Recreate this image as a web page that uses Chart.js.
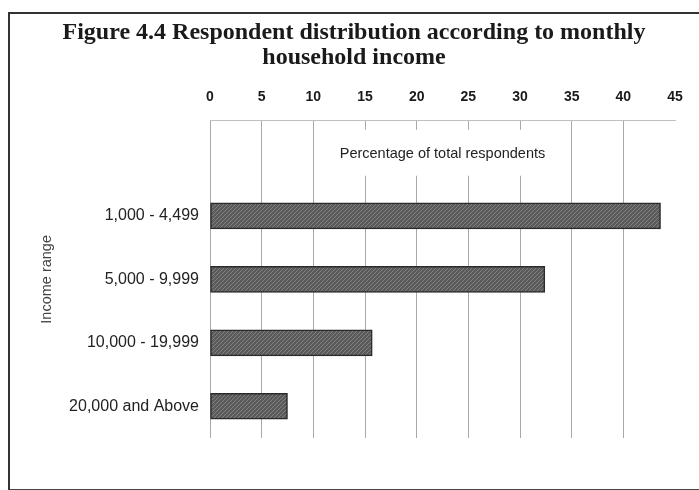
<!DOCTYPE html>
<html>
<head>
<meta charset="utf-8">
<script src="https://cdn.jsdelivr.net/npm/chart.js@4.4.0/dist/chart.umd.min.js"></script>
<style>
    body { margin: 0; background: #fff; }
    #frame {
        position: absolute; left: 8px; top: 12px; width: 700px; height: 475px;
        border-top: 2px solid #333; border-left: 2px solid #333; border-bottom: 2px solid #444;
    }
    #wrap { position: absolute; left: 0; top: 0; width: 699px; height: 490px; }
</style>
</head>
<body>
<div id="frame"></div>
<div id="wrap"><canvas id="chart"></canvas></div>
<script>
const incomeRanges = ["1,000 - 4,499", "5,000 - 9,999", "10,000 - 19,999", "20,000 and Above"];
const percentages = [43.6, 32.4, 15.7, 7.5];
const xTicks = [0, 5, 10, 15, 20, 25, 30, 35, 40, 45];
const titleLines = ["Figure 4.4 Respondent distribution according to monthly", "household income"];
const xTitle = "Percentage of total respondents";
const yTitle = "Income range";

function makeHatch() {
    const c = document.createElement("canvas");
    c.width = 4;
    c.height = 4;
    const g = c.getContext("2d");
    g.fillStyle = "#5a5a5a";
    g.fillRect(0, 0, 4, 4);
    g.strokeStyle = "#828282";
    g.lineWidth = 1;
    g.beginPath();
    g.moveTo(0, 4);
    g.lineTo(4, 0);
    g.moveTo(-1, 1);
    g.lineTo(1, -1);
    g.moveTo(3, 5);
    g.lineTo(5, 3);
    g.stroke();
    return g.createPattern(c, "repeat");
}

// title of the value axis sits inside the plot, on a white box
const innerTitle = {
    id: "innerTitle",
    afterDraw(chart) {
        const ctx = chart.ctx;
        const area = chart.chartArea;
        const cx = (area.left + area.right) / 2;
        ctx.save();
        ctx.font = "14.5px 'Liberation Sans', Arial, sans-serif";
        const w = ctx.measureText(xTitle).width;
        ctx.fillStyle = "#fff";
        ctx.fillRect(cx - w / 2 - 14, area.top + 9, w + 28, 46);
        ctx.fillStyle = "#222";
        ctx.textAlign = "center";
        ctx.textBaseline = "middle";
        ctx.fillText(xTitle, cx, area.top + 33);
        ctx.restore();
    }
};

new Chart(document.getElementById("chart"), {
    type: "bar",
    data: {
        datasets: [{
            data: percentages.map((v, i) => ({x: v, y: i})),
            backgroundColor: makeHatch(),
            borderColor: "#2a2a2a",
            borderWidth: 1.5,
            borderSkipped: false,
            barThickness: 26
        }]
    },
    options: {
        indexAxis: "y",
        responsive: true,
        maintainAspectRatio: false,
        animation: false,
        layout: {padding: {left: 33, right: 24, top: 0, bottom: 52}},
        plugins: {
            legend: {display: false},
            tooltip: {enabled: false},
            title: {
                display: true,
                text: titleLines,
                color: "#1a1a1a",
                font: {family: "'Liberation Serif', 'Times New Roman', serif", size: 24, weight: "bold", lineHeight: 1.04},
                padding: {top: 20, bottom: 4}
            }
        },
        scales: {
            x: {
                position: "top",
                min: 0,
                max: 45,
                afterBuildTicks: (scale) => { scale.ticks = xTicks.map(v => ({value: v})); },
                ticks: {
                    color: "#1a1a1a",
                    padding: 15,
                    font: {family: "'Liberation Sans', Arial, sans-serif", size: 14, weight: "bold"}
                },
                grid: {
                    drawTicks: false,
                    color: (ctx) => ctx.tick && ctx.tick.value === 45 ? "rgba(0,0,0,0)" : "#a8a8a8"
                },
                border: {display: true, color: "#c0c0c0"}
            },
            y: {
                type: "linear",
                reverse: true,
                offset: false,
                min: -1.5,
                max: 3.5,
                afterBuildTicks: (scale) => { scale.ticks = incomeRanges.map((c, i) => ({value: i})); },
                afterFit: (scale) => {
                    scale.width = 177;
                    scale.paddingTop = 0;
                    scale.paddingBottom = 0;
                },
                ticks: {
                    color: "#222",
                    padding: 11,
                    font: {family: "'Liberation Sans', Arial, sans-serif", size: 16},
                    callback: (v) => incomeRanges[v]
                },
                grid: {display: false, drawTicks: false, offset: false},
                border: {display: false},
                title: {
                    display: true,
                    text: yTitle,
                    color: "#444",
                    font: {family: "'Liberation Sans', Arial, sans-serif", size: 14.5},
                    padding: {top: 5}
                }
            }
        }
    },
    plugins: [innerTitle]
});
</script>
</body>
</html>
